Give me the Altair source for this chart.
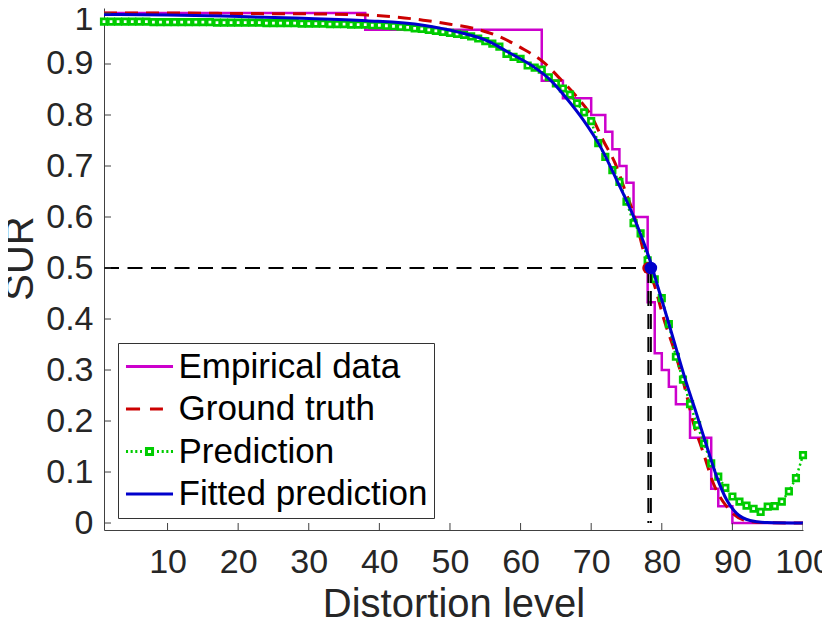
import altair as alt
import pandas as pd

# ---------------- data ----------------
emp_x = [1, 38, 63, 66, 70, 72, 73, 74, 75, 76, 78, 79, 80, 81, 82, 84, 87, 88, 90, 100]
emp_y = [1.0, 0.967, 0.867, 0.833, 0.8, 0.767, 0.733, 0.7, 0.667, 0.6,
         0.433, 0.333, 0.3, 0.267, 0.233, 0.167, 0.067, 0.033, 0.0, 0.0]

gt_x = [1, 10, 20, 32, 38.2, 41.5, 46.2, 50.0, 53.3, 57.1, 59.9, 63.2, 65.8, 68.0,
        70.1, 71.7, 73.4, 74.8, 76.0, 77.9, 79.05, 80.2, 81.9, 83.1, 84.5, 85.9,
        87.3, 89.2, 91.6, 94.0, 100]
gt_y = [1.0, 1.0, 0.999, 0.998, 0.996, 0.993, 0.986, 0.978, 0.970, 0.953, 0.933,
        0.904, 0.868, 0.835, 0.796, 0.750, 0.705, 0.652, 0.607, 0.509, 0.462,
        0.404, 0.333, 0.274, 0.195, 0.137, 0.078, 0.032, 0.006, 0.001, 0.0]

pred_x = list(range(1, 101))
pred_y = [0.983, 0.983, 0.983, 0.983, 0.983, 0.983, 0.983, 0.982, 0.982, 0.982,
          0.982, 0.982, 0.982, 0.982, 0.982, 0.982, 0.981, 0.981, 0.981, 0.981,
          0.981, 0.981, 0.981, 0.980, 0.980, 0.980, 0.980, 0.980, 0.979, 0.979,
          0.979, 0.979, 0.978, 0.978, 0.978, 0.977, 0.977, 0.977, 0.976, 0.976,
          0.975, 0.974, 0.973, 0.972, 0.970, 0.969, 0.967, 0.965, 0.963, 0.961,
          0.959, 0.957, 0.954, 0.950, 0.945, 0.940, 0.934, 0.920, 0.914, 0.910,
          0.897, 0.893, 0.889, 0.874, 0.862, 0.852, 0.840, 0.823, 0.805, 0.788,
          0.745, 0.718, 0.692, 0.669, 0.630, 0.588, 0.568, 0.515, 0.478, 0.441,
          0.390, 0.326, 0.281, 0.233, 0.192, 0.156, 0.117, 0.091, 0.069, 0.052,
          0.042, 0.034, 0.028, 0.022, 0.032, 0.033, 0.042, 0.062, 0.088, 0.133]

fit_x = [1, 10, 17.8, 28, 38.2, 46.2, 51.0, 55.7, 58.0, 61.8, 64.2, 66.5, 68.9,
         71.3, 73.6, 76.0, 78.6, 79.3, 80.7, 82.1, 83.5, 84.9, 86.4, 87.8, 89.2,
         90.6, 92.5, 94.9, 100]
fit_y = [0.997, 0.996, 0.994, 0.990, 0.985, 0.976, 0.963, 0.943, 0.925, 0.895,
         0.869, 0.833, 0.790, 0.738, 0.673, 0.601, 0.503, 0.470, 0.405, 0.339,
         0.274, 0.215, 0.149, 0.090, 0.045, 0.019, 0.005, 0.001, 0.0]

thr_level = 0.5
thr_gt = 78.1
thr_pred = 78.45

x_ticks = [10, 20, 30, 40, 50, 60, 70, 80, 90, 100]
y_ticks = [0, 0.1, 0.2, 0.3, 0.4, 0.5, 0.6, 0.7, 0.8, 0.9, 1]

series = ["Empirical data", "Ground truth", "Prediction", "Fitted prediction"]
colors = ["#CC00CC", "#CC0000", "#00CC00", "#0000CC"]
# legend glyphs (line / dashed / dotted+square / line)
glyphs = [
    "M-1.47,0H1.47",
    "M-1.47,0H-0.59M0.03,0H0.84",
    "M-1.47,0H-1.34M-1.18,0H-1.05M-0.89,0H-0.76M-0.59,0H-0.47"
    "M0.47,0H0.59M0.76,0H0.89M1.05,0H1.18M1.34,0H1.47"
    "M-0.19,-0.19H0.19V0.19H-0.19Z",
    "M-1.47,0H1.47",
]

# ---------------- styling ----------------
FONT = "Liberation Sans"
TXT = "#262626"
AX = "#404040"
x_dom = [1, 100]
y_dom = [-0.0137, 1.0098]

xs = alt.Scale(domain=x_dom, nice=False, zero=False)
ys = alt.Scale(domain=y_dom, nice=False, zero=False)

x_axis = alt.Axis(values=x_ticks, ticks=False, tickSize=0, grid=False,
                  labelFont=FONT, labelFontSize=34, labelColor=TXT,
                  labelPadding=42, labelBaseline="alphabetic", labelFlush=False,
                  labelOverlap=False, domainColor=AX, domainWidth=1,
                  title="Distortion level", titleFont=FONT, titleFontSize=40,
                  titleFontWeight="normal", titleColor=TXT,
                  titleBaseline="alphabetic", titleY=86)
y_axis = alt.Axis(values=y_ticks, format="~g", ticks=False, tickSize=0, grid=False,
                  labelFont=FONT, labelFontSize=34, labelColor=TXT,
                  labelPadding=11, labelFlush=False, labelOverlap=False,
                  labelOffset=alt.condition("datum.value == 1", alt.value(7), alt.value(0)),
                  domainColor=AX, domainWidth=1,
                  title="SUR", titleFont=FONT, titleFontSize=40,
                  titleFontWeight="normal", titleColor=TXT,
                  titleBaseline="alphabetic", titleX=-72, titleY=250)

X = alt.X("x:Q", scale=xs, axis=x_axis)
Y = alt.Y("y:Q", scale=ys, axis=y_axis)

emp_df = pd.DataFrame({"x": emp_x, "y": emp_y})
gt_df = pd.DataFrame({"x": gt_x, "y": gt_y})
pred_df = pd.DataFrame({"x": pred_x, "y": pred_y})
fit_df = pd.DataFrame({"x": fit_x, "y": fit_y})

emp = alt.Chart(emp_df).mark_line(color=colors[0], strokeWidth=2.5,
                                  interpolate="step-after").encode(x=X, y=Y)
gt = alt.Chart(gt_df).mark_line(color=colors[1], strokeWidth=3, strokeDash=[13, 8],
                                interpolate="monotone").encode(x=X, y=Y)
pred_line = alt.Chart(pred_df).mark_line(color=colors[2], strokeWidth=2.5,
                                         strokeDash=[2, 3]).encode(x=X, y=Y)
pred_pts = alt.Chart(pred_df).mark_point(shape="square", size=30, filled=False,
                                         fill="white", color=colors[2],
                                         strokeWidth=2.7, opacity=1).encode(x=X, y=Y)
fit = alt.Chart(fit_df).mark_line(color=colors[3], strokeWidth=3,
                                  interpolate="monotone").encode(x=X, y=Y)

h_df = pd.DataFrame({"x": [x_dom[0]], "x2": [thr_pred], "y": [thr_level]})
hline = alt.Chart(h_df).mark_rule(color="black", strokeWidth=2,
                                  strokeDash=[15, 8.5]).encode(x=X, x2="x2:Q", y=Y)
v_df = pd.DataFrame({"x": [thr_gt, thr_pred], "y": [thr_level, thr_level],
                     "y2": [0, 0]})
vline = alt.Chart(v_df).mark_rule(color="black", strokeWidth=2,
                                  strokeDash=[15, 8]).encode(x=X, y=Y, y2="y2:Q")

gt_pt = alt.Chart(pd.DataFrame({"x": [thr_gt], "y": [thr_level]})).mark_circle(
    size=150, color=colors[1], opacity=1).encode(x=X, y=Y)
fit_pt = alt.Chart(pd.DataFrame({"x": [thr_pred], "y": [thr_level]})).mark_circle(
    size=160, color=colors[3], opacity=1).encode(x=X, y=Y)

# inward axis ticks (clipped half of a centred tick)
yt_df = pd.DataFrame({"x": [x_dom[0]] * len(y_ticks), "y": y_ticks})
ytk = alt.Chart(yt_df).mark_tick(orient="horizontal", size=14, thickness=1,
                                 color=AX, opacity=1, clip=True).encode(x=X, y=Y)
xt_df = pd.DataFrame({"x": x_ticks, "y": [y_dom[0]] * len(x_ticks)})
xtk = alt.Chart(xt_df).mark_tick(orient="vertical", size=14, thickness=1,
                                 color=AX, opacity=1, clip=True).encode(x=X, y=Y)

# legend carrier (no visible marks)
leg_df = pd.DataFrame({"x": pred_x[:4], "y": pred_y[:4], "series": series})
legend_kw = dict(orient="none", legendX=14, legendY=335, title=None,
                 labelFont=FONT, labelFontSize=35, labelColor="black",
                 labelOffset=11.5, labelLimit=500, symbolSize=1024,
                 symbolStrokeWidth=3, symbolOffset=8, rowPadding=6.5, padding=6,
                 strokeColor="#333333", fillColor="white")
leg = alt.Chart(leg_df).transform_filter("datum.x < 0").mark_point(
    filled=False, strokeWidth=3, opacity=1).encode(
    x=X, y=Y,
    color=alt.Color("series:N", scale=alt.Scale(domain=series, range=colors),
                    legend=alt.Legend(**legend_kw)),
    shape=alt.Shape("series:N", scale=alt.Scale(domain=series, range=glyphs),
                    legend=alt.Legend(**legend_kw)),
)

chart = alt.layer(emp, gt, pred_line, pred_pts, fit, hline, vline, gt_pt, fit_pt,
                  ytk, xtk, leg).properties(
    width=699, height=522,
    autosize=alt.AutoSizeParams(type="none"),
    padding={"left": 96, "top": 0, "right": 19, "bottom": 87},
).configure(background="white").configure_view(strokeWidth=0, stroke="transparent")

chart.save("out.html", embed_options={"renderer": "svg", "actions": False})
